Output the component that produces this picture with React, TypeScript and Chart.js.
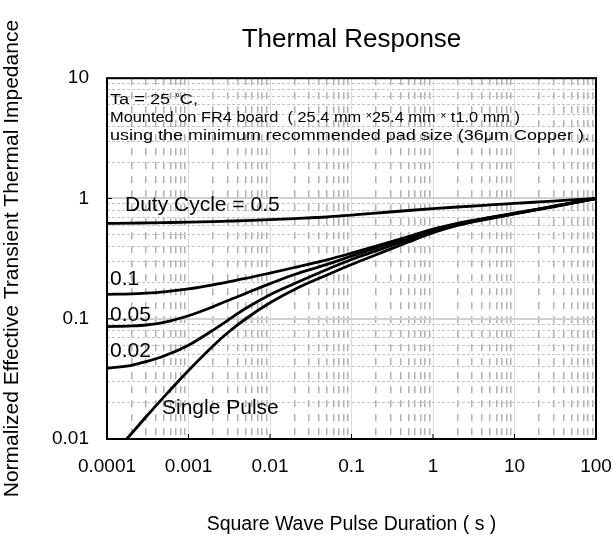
import React, { useEffect, useRef } from 'react';
import { Chart, registerables } from 'chart.js';

Chart.register(...registerables);

const FONT = "'Liberation Sans', Arial, Helvetica, sans-serif";

// Axis decades and tick labels
const X_DECADES = [0.0001, 0.001, 0.01, 0.1, 1, 10, 100];
const X_TICK_LABELS = ['0.0001', '0.001', '0.01', '0.1', '1', '10', '100'];
const Y_DECADES = [0.01, 0.1, 1, 10];
const Y_TICK_LABELS = ['0.01', '0.1', '1', '10'];

// Pulse duration (s)
const PULSE_TIME = [1e-4, 2e-4, 3e-4, 5e-4, 1e-3, 2e-3, 3e-3, 5e-3, 1e-2, 2e-2, 5e-2, 0.1, 0.2, 0.5, 1, 2, 5, 10, 20, 50, 100];

// Normalized effective transient thermal impedance per duty cycle
const DUTY_050 = [0.6209, 0.6231, 0.6259, 0.6295, 0.6346, 0.6413, 0.6472, 0.6547, 0.6669, 0.6808, 0.7015, 0.7278, 0.7551, 0.7943, 0.8222, 0.8492, 0.8831, 0.9089, 0.9354, 0.9716, 1.0];
const DUTY_010 = [0.1596, 0.1611, 0.1633, 0.1675, 0.177, 0.1914, 0.2018, 0.2163, 0.2399, 0.2667, 0.309, 0.3508, 0.4009, 0.4808, 0.5559, 0.6209, 0.695, 0.7551, 0.8204, 0.9183, 1.0];
const DUTY_005 = [0.0859, 0.0871, 0.0887, 0.0933, 0.1059, 0.1259, 0.1413, 0.1622, 0.1959, 0.2334, 0.2831, 0.3311, 0.3873, 0.471, 0.547, 0.6152, 0.6918, 0.7516, 0.8166, 0.9162, 1.0];
const DUTY_002 = [0.03868, 0.04102, 0.04395, 0.04898, 0.06026, 0.08035, 0.0966, 0.1216, 0.1585, 0.1963, 0.257, 0.3112, 0.3664, 0.4539, 0.5346, 0.6081, 0.6871, 0.7482, 0.8147, 0.9141, 1.0];
const SINGLE_PULSE = [0.00658, 0.01112, 0.01524, 0.02239, 0.03707, 0.05929, 0.07603, 0.0995, 0.1358, 0.1754, 0.2312, 0.2825, 0.3404, 0.4345, 0.5188, 0.597, 0.6808, 0.743, 0.811, 0.9099, 1.0];

const SERIES_NAMES = ['Duty Cycle = 0.5', '0.1', '0.05', '0.02', 'Single Pulse'];
const SERIES_VALUES = [DUTY_050, DUTY_010, DUTY_005, DUTY_002, SINGLE_PULSE];

const TITLE = 'Thermal Response';
const X_TITLE = 'Square Wave Pulse Duration ( s )';
const Y_TITLE = 'Normalized Effective Transient Thermal Impedance';

// Note text: [text, small?]
const NOTE_LINES: [string, boolean][][] = [
  [['Ta = 25 ', false], ['°', true], ['C,', false]],
  [['Mounted on FR4 board  ( 25.4 mm ', false], ['×', true], ['25.4 mm ', false], ['×', true], [' t1.0 mm )', false]],
  [['using the minimum recommended pad size (36μm Copper ).', false]],
];

function decadeTicks(decades: number[]) {
  const ticks: { value: number; major: boolean }[] = [];
  for (let i = 0; i < decades.length - 1; i++) {
    for (let m = 1; m <= 9; m++) ticks.push({ value: decades[i] * m, major: m === 1 });
  }
  ticks.push({ value: decades[decades.length - 1], major: true });
  return ticks;
}

function labelFor(decades: number[], labels: string[], value: number) {
  const k = decades.findIndex((d) => Math.abs(Math.log10(d) - Math.log10(value)) < 1e-6);
  return k >= 0 ? labels[k] : '';
}

const overlayPlugin = {
  id: 'overlay',
  afterDatasetsDraw(chart: any) {
    const { ctx, chartArea: a, scales } = chart;
    ctx.save();
    // plot frame
    ctx.strokeStyle = '#000';
    ctx.lineWidth = 2;
    ctx.strokeRect(a.left, a.top, a.right - a.left, a.bottom - a.top);
    // inner major tick marks
    ctx.lineWidth = 1;
    X_DECADES.forEach((d) => {
      const px = scales.x.getPixelForValue(d);
      ctx.beginPath();
      ctx.moveTo(px, a.bottom);
      ctx.lineTo(px, a.bottom - 5);
      ctx.stroke();
    });
    Y_DECADES.forEach((d) => {
      const py = scales.y.getPixelForValue(d);
      ctx.beginPath();
      ctx.moveTo(a.left, py);
      ctx.lineTo(a.left + 5, py);
      ctx.stroke();
    });

    ctx.fillStyle = '#000';
    ctx.textBaseline = 'alphabetic';
    ctx.textAlign = 'left';

    // note text (each line fitted to the width it spans in the original)
    const noteWidths = [88, 410, 479];
    const fontOf = (small: boolean) => `${small ? 10 : 15.5}px ${FONT}`;
    NOTE_LINES.forEach((runs, i) => {
      let natural = 0;
      runs.forEach(([t, small]) => {
        ctx.font = fontOf(small);
        natural += ctx.measureText(t).width;
      });
      const sx = noteWidths[i] / natural;
      ctx.save();
      ctx.translate(a.left + 3, a.top + 26 + i * 18);
      ctx.scale(sx, 1);
      let x = 0;
      runs.forEach(([t, small]) => {
        ctx.font = fontOf(small);
        ctx.fillText(t, x, small ? -3 : 0);
        x += ctx.measureText(t).width;
      });
      ctx.restore();
    });

    // curve labels
    ctx.font = `21px ${FONT}`;
    const spots = [
      [18, 133],
      [3, 207],
      [3, 243],
      [3, 279],
      [55, 336],
    ];
    SERIES_NAMES.forEach((name, i) => {
      ctx.fillText(name, a.left + spots[i][0], a.top + spots[i][1]);
    });
    ctx.restore();
  },
};

export default function App() {
  const canvasRef = useRef<HTMLCanvasElement | null>(null);

  useEffect(() => {
    if (!canvasRef.current) return;
    const datasets = SERIES_VALUES.map((vals, i) => ({
      label: SERIES_NAMES[i],
      data: PULSE_TIME.map((t, j) => ({ x: t, y: vals[j] })),
      borderColor: '#000',
      backgroundColor: '#000',
      borderWidth: 2.8,
      pointRadius: 0,
      cubicInterpolationMode: 'monotone' as const,
      fill: false,
    }));

    const chart = new Chart(canvasRef.current, {
      type: 'line',
      data: { datasets },
      plugins: [overlayPlugin],
      options: {
        animation: false,
        responsive: false,
        maintainAspectRatio: false,
        layout: { padding: { top: 0, left: 0, right: 18, bottom: 0 } },
        plugins: {
          legend: { display: false },
          tooltip: { enabled: false },
          title: {
            display: true,
            text: TITLE,
            fullSize: false,
            color: '#000',
            font: { family: FONT, size: 26, weight: 'normal' as const, lineHeight: 1.2 },
            padding: { top: 24, bottom: 23 },
          },
        },
        scales: {
          x: {
            type: 'logarithmic',
            min: 0.0001,
            max: 100,
            afterBuildTicks: (scale: any) => {
              scale.ticks = decadeTicks(X_DECADES);
            },
            afterFit: (scale: any) => {
              scale.height = 100;
            },
            ticks: {
              autoSkip: false,
              maxRotation: 0,
              minRotation: 0,
              padding: 0,
              color: '#000',
              font: { family: FONT, size: 19 },
              callback: (value: any) => labelFor(X_DECADES, X_TICK_LABELS, Number(value)),
            },
            grid: {
              drawTicks: true,
              tickLength: 16,
              tickColor: 'rgba(0,0,0,0)',
              color: (c: any) => (c.tick && c.tick.major ? '#dcdcdc' : '#b0b0b0'),
              lineWidth: (c: any) => (c.tick && c.tick.major ? 1 : 1.5),
            },
            border: {
              display: false,
              dash: (c: any) => (c.tick && !c.tick.major ? [7, 7] : []),
            },
            title: {
              display: true,
              text: X_TITLE,
              color: '#000',
              font: { family: FONT, size: 19.5, lineHeight: 1.2 },
              padding: { top: 0, bottom: 3 },
            },
          },
          y: {
            type: 'logarithmic',
            min: 0.01,
            max: 10,
            afterBuildTicks: (scale: any) => {
              scale.ticks = decadeTicks(Y_DECADES);
            },
            afterFit: (scale: any) => {
              scale.width = 107;
            },
            ticks: {
              autoSkip: false,
              padding: 18,
              color: '#000',
              font: { family: FONT, size: 19 },
              callback: (value: any) => labelFor(Y_DECADES, Y_TICK_LABELS, Number(value)),
            },
            grid: {
              drawTicks: false,
              color: (c: any) => (c.tick && c.tick.major ? '#d0d0d0' : '#c4c4c4'),
              lineWidth: (c: any) => (c.tick && c.tick.major ? 2 : 1),
            },
            border: {
              display: false,
              dash: (c: any) => (c.tick && !c.tick.major ? [3, 2] : []),
            },
            title: {
              display: true,
              text: Y_TITLE,
              color: '#000',
              font: { family: FONT, size: 21, lineHeight: 1.2 },
              padding: { top: 0, bottom: 0 },
            },
          },
        },
      },
    } as any);

    return () => chart.destroy();
  }, []);

  return (
    <div style={{ position: 'fixed', left: 0, top: 0, width: 614, height: 539, background: '#fff' }}>
      <canvas ref={canvasRef} width={614} height={539} style={{ display: 'block' }} />
    </div>
  );
}
